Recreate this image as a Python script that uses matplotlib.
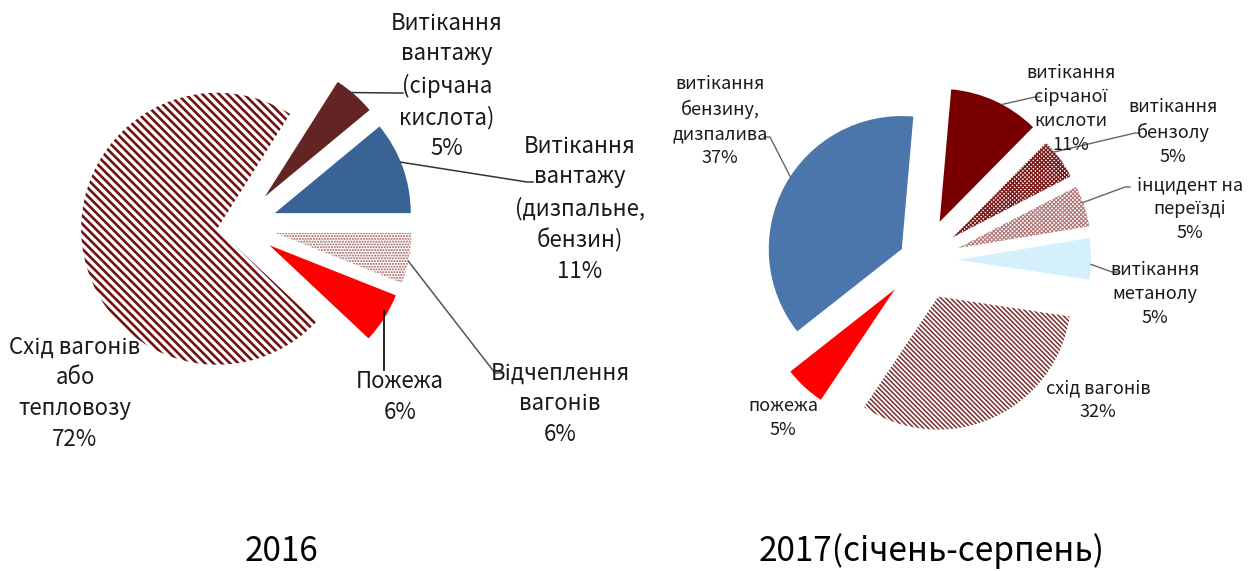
import matplotlib
matplotlib.use("Agg")
import matplotlib.pyplot as plt
import numpy as np

# ---------------- data ----------------
labels_2016 = ["Витікання\nвантажу\n(сірчана\nкислота)",
               "Витікання\nвантажу\n(дизпальне,\nбензин)",
               "Відчеплення\nвагонів",
               "Пожежа",
               "Схід вагонів\nабо\nтепловозу"]
values_2016 = [5, 11, 6, 6, 72]

labels_2017 = ["витікання\nсірчаної\nкислоти",
               "витікання\nбензолу",
               "інцидент на\nпереїзді",
               "витікання\nметанолу",
               "схід вагонів",
               "пожежа",
               "витікання\nбензину,\nдизпалива"]
values_2017 = [11, 5, 5, 5, 32, 5, 37]

title_2016 = "2016"
title_2017 = "2017(січень-серпень)"

# ---------------- style ----------------
W, H = 1249, 571
FONT = ["Noto Sans CJK SC", "DejaVu Sans"]

def Y(y):  # image row -> data y
    return H - y

fig = plt.figure(figsize=(W / 100, H / 100), dpi=100)
ax = fig.add_axes([0, 0, 1, 1])

styles_2016 = [
    dict(fc="#632523", ec="#632523", hatch=None, hlw=1.0),
    dict(fc="#3A6395", ec="#3A6395", hatch=None, hlw=1.0),
    dict(fc="white", ec="#9A5A5A", hatch="......", hlw=1.0),
    dict(fc="#FF0000", ec="#FF0000", hatch=None, hlw=1.0),
    dict(fc="white", ec="#701212", hatch="\\" * 4, hlw=1.9),
]
explode_2016 = [39, 38, 37, 36, 22]

styles_2017 = [
    dict(fc="#780000", ec="#780000", hatch=None, hlw=1.0),
    dict(fc="white", ec="#7A1A1A", hatch="x" * 8, hlw=1.0),
    dict(fc="white", ec="#B07676", hatch="x" * 8, hlw=0.8),
    dict(fc="#D4F0FB", ec="#D4F0FB", hatch=None, hlw=1.0),
    dict(fc="white", ec="#7B2C2C", hatch="\\" * 7, hlw=1.1),
    dict(fc="#FF0000", ec="#FF0000", hatch=None, hlw=1.0),
    dict(fc="#4A76AC", ec="#4A76AC", hatch=None, hlw=1.0),
]
explode_2017 = [42, 38, 38, 36, 40, 40, 23]


def draw_pie(values, center, radius, start, explode, styles):
    wedges, _ = ax.pie(values, center=center, radius=radius, startangle=start,
                       counterclock=False, explode=explode,
                       wedgeprops=dict(linewidth=0))
    for w, st in zip(wedges, styles):
        w.set_facecolor(st["fc"])
        w.set_edgecolor(st["ec"])
        w.set_linewidth(0)
        if st["hatch"]:
            w.set_hatch(st["hatch"])
            try:
                w.set_hatch_linewidth(st["hlw"])
            except AttributeError:
                w._hatch_linewidth = st["hlw"]
    return wedges


def arc_point(w, ang, rf=1.0):
    t = np.deg2rad(ang)
    cx, cy = w.center
    return cx + rf * w.r * np.cos(t), cy + rf * w.r * np.sin(t)


R1, R2 = 136, 133
w16 = draw_pie(values_2016, (239, Y(226)), R1, 57.6, explode_2016, styles_2016)
w17 = draw_pie(values_2017, (922, Y(260)), R2, 85, explode_2017, styles_2017)

ax.set_xlim(0, W)
ax.set_ylim(0, H)
ax.set_aspect("equal")
ax.axis("off")

fs1, fs2 = 16, 13
ls = 1.43

# ---- 2016 labels ----
pos_2016 = [(447, 86), (580, 209), (560, 404), (400, 397), (75, 393)]
for lab, v, (x, y) in zip(labels_2016, values_2016, pos_2016):
    ax.text(x, Y(y), f"{lab}\n{v}%", ha="center", va="center", fontsize=fs1,
            family=FONT, color="#1a1a1a", linespacing=ls)

lc = "#333333"
# leader lines 2016
p = arc_point(w16[0], 50)
ax.plot([p[0], 396, 403], [p[1], Y(93), Y(93)], color=lc, lw=1.1)
p = arc_point(w16[1], 22)
ax.plot([p[0], 527, 533], [p[1], Y(182), Y(182)], color=lc, lw=1.1)
p = arc_point(w16[2], -12)
ax.plot([p[0], 495, 502], [p[1], Y(373), Y(373)], color="#555555", lw=1.1)
p = arc_point(w16[3], -30, 0.97)
ax.plot([p[0], p[0]], [p[1], Y(370)], color="#111111", lw=1.3)

# ---- 2017 labels ----
pos_2017 = [(1071, 109), (1173, 132), (1190, 209), (1155, 294),
            (1098, 400), (783, 418), (720, 121)]
for lab, v, (x, y) in zip(labels_2017, values_2017, pos_2017):
    ax.text(x, Y(y), f"{lab}\n{v}%", ha="center", va="center", fontsize=fs2,
            family=FONT, color="#1a1a1a", linespacing=ls)

lc2 = "#666666"
p = arc_point(w17[0], 62)
ax.plot([p[0], 1035, 1040], [p[1], Y(97), Y(97)], color=lc2, lw=1.0)
p = arc_point(w17[1], 40)
ax.plot([p[0], 1135, 1140], [p[1], Y(133), Y(133)], color=lc2, lw=1.0)
p = arc_point(w17[2], 20)
ax.plot([p[0], 1125, 1130], [p[1], Y(187), Y(187)], color=lc2, lw=1.0)
p = arc_point(w17[3], -2)
ax.plot([p[0], 1112, 1118], [p[1], Y(272), Y(272)], color=lc2, lw=1.0)
p = arc_point(w17[6], 147)
ax.plot([p[0], 770, 764], [p[1], Y(137), Y(137)], color=lc2, lw=1.0)

# ---- titles ----
ax.text(281, Y(561), title_2016, ha="center", va="baseline", fontsize=24,
        family=FONT, color="black")
ax.text(932, Y(561), title_2017, ha="center", va="baseline", fontsize=24,
        family=FONT, color="black")

fig.savefig("out.png", dpi=100)
